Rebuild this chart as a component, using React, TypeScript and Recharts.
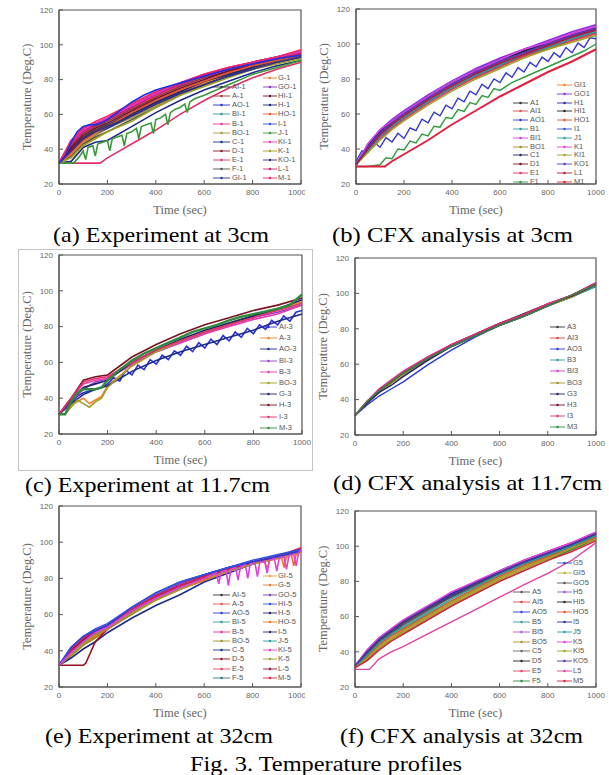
import React from 'react';
import { LineChart, Line, XAxis, YAxis, ReferenceArea, Legend } from 'recharts';

type Series = { name: string; color: string; t: number[]; v: number[]; w?: number; front?: boolean };

// ---------- shared axes / time grids ----------
const X_TICKS = [0, 200, 400, 600, 800, 1000];
const X_MINOR = [100, 300, 500, 700, 900];
const Y_TICKS = [20, 40, 60, 80, 100, 120];
const Y_MINOR = [30, 50, 70, 90, 110];
const T13 = [0, 50, 100, 150, 200, 300, 400, 500, 600, 700, 800, 900, 1000];
const T25 = [0, 25, 50, 75, 100, 125, 150, 175, 200, 225, 250, 275, 300, 325, 350, 375, 400, 425, 450, 475, 500, 525, 550, 575, 600, 625, 650, 675, 700, 725, 750, 775, 800, 825, 850, 875, 900, 925, 950, 975, 1000];

// ---------- (a) Experiment at 3cm ----------
const T_A_AO = [0, 25, 50, 75, 100, 125, 150, 175, 200, 250, 300, 350, 400, 450, 500, 600, 700, 800, 900, 1000];
const T_A_E = [0, 50, 100, 150, 170, 200, 300, 400, 500, 600, 700, 800, 900, 1000];
const T_A_J = [0, 60, 80, 100, 110, 120, 140, 150, 160, 180, 200, 210, 220, 240, 260, 270, 280, 300, 320, 330, 340, 360, 380, 390, 400, 420, 440, 450, 460, 480, 500, 520, 530, 540, 560, 580, 600, 700, 800, 900, 1000];
const SERIES_A: Series[] = [
  { name: 'AI-1', color: '#3a3a3a', t: T13, v: [32, 40, 47, 51, 54, 61, 68, 74, 79, 84, 88, 91, 94] },
  { name: 'A-1', color: '#a0302a', t: T13, v: [32, 42, 49, 53, 56, 63, 70, 76, 81, 85, 89, 92, 95] },
  { name: 'AO-1', color: '#2030e0', t: T_A_AO, v: [32, 36, 44, 50, 53, 54, 54, 55, 57, 62, 67, 71, 74, 76, 78, 82, 86, 89, 92, 94], front: true },
  { name: 'BI-1', color: '#2a9d8f', t: T13, v: [32, 38, 45, 49, 52, 59, 66, 72, 78, 83, 87, 90, 93] },
  { name: 'B-1', color: '#f0309a', t: T13, v: [32, 45, 52, 55, 58, 66, 73, 78, 83, 87, 90, 93, 97] },
  { name: 'BO-1', color: '#a89a30', t: T13, v: [32, 37, 44, 48, 52, 58, 65, 72, 77, 82, 86, 90, 93] },
  { name: 'C-1', color: '#1c2a8c', t: T13, v: [32, 33, 41, 44, 45, 53, 61, 68, 74, 79, 84, 88, 91] },
  { name: 'D-1', color: '#8b1a2a', t: T13, v: [32, 40, 46, 50, 53, 60, 67, 73, 78, 83, 87, 91, 94] },
  { name: 'E-1', color: '#e0306a', t: T_A_E, v: [32, 32, 32, 32, 32, 35, 43, 51, 60, 68, 75, 81, 86, 90] },
  { name: 'F-1', color: '#505050', t: T13, v: [32, 36, 43, 47, 50, 57, 64, 71, 77, 82, 86, 90, 93] },
  { name: 'GI-1', color: '#283593', t: T13, v: [32, 38, 45, 49, 52, 59, 66, 72, 78, 82, 87, 90, 93] },
  { name: 'G-1', color: '#e8802a', t: T13, v: [32, 37, 44, 49, 53, 60, 67, 73, 78, 83, 87, 90, 94] },
  { name: 'GO-1', color: '#9030c0', t: T13, v: [32, 44, 51, 54, 57, 65, 72, 77, 82, 86, 90, 93, 96] },
  { name: 'HI-1', color: '#701030', t: T13, v: [32, 41, 48, 52, 55, 62, 69, 75, 80, 85, 88, 92, 95] },
  { name: 'H-1', color: '#1a237e', t: T13, v: [32, 39, 46, 50, 53, 60, 67, 73, 79, 83, 87, 91, 94] },
  { name: 'HO-1', color: '#e8562a', t: T13, v: [32, 38, 45, 50, 53, 61, 68, 74, 79, 84, 88, 91, 94] },
  { name: 'I-1', color: '#3050e8', t: T13, v: [32, 43, 50, 54, 57, 64, 72, 77, 82, 86, 90, 93, 96] },
  { name: 'J-1', color: '#3a9a3a', t: T_A_J, v: [32, 32, 35, 39, 34, 41, 42, 36, 43, 44, 45, 39, 46, 47, 48, 42, 49, 50, 52, 46, 53, 54, 55, 49, 57, 58, 60, 54, 61, 63, 64, 66, 61, 67, 69, 70, 71, 77, 83, 87, 91] },
  { name: 'KI-1', color: '#e838c8', t: T13, v: [32, 44, 51, 55, 58, 65, 72, 78, 83, 87, 90, 93, 96] },
  { name: 'K-1', color: '#a0a020', t: T13, v: [32, 35, 42, 46, 50, 56, 64, 71, 76, 81, 86, 89, 92] },
  { name: 'KO-1', color: '#30308a', t: T13, v: [32, 39, 46, 50, 53, 59, 66, 72, 77, 82, 86, 90, 93] },
  { name: 'L-1', color: '#d02070', t: T13, v: [32, 43, 50, 54, 57, 64, 71, 77, 82, 86, 89, 92, 95] },
  { name: 'M-1', color: '#f02860', t: T13, v: [32, 45, 52, 56, 59, 66, 73, 78, 83, 87, 90, 93, 97] },
];
const LEGEND_A_LEFT = ['AI-1', 'A-1', 'AO-1', 'BI-1', 'B-1', 'BO-1', 'C-1', 'D-1', 'E-1', 'F-1', 'GI-1'];
const LEGEND_A_RIGHT = ['G-1', 'GO-1', 'HI-1', 'H-1', 'HO-1', 'I-1', 'J-1', 'KI-1', 'K-1', 'KO-1', 'L-1', 'M-1'];

// ---------- (b) CFX analysis at 3cm ----------
const T_B_F = [0, 50, 100, 125, 150, 175, 200, 225, 250, 275, 300, 325, 350, 375, 400, 425, 450, 475, 500, 525, 550, 575, 600, 650, 700, 750, 800, 850, 900, 950, 1000];
const T_B_M = [0, 50, 100, 120, 150, 200, 300, 400, 500, 600, 700, 800, 900, 1000];
const SERIES_B: Series[] = [
  { name: 'A1', color: '#333333', t: T13, v: [31, 42, 50, 56, 61, 70, 78, 85, 91, 97, 101, 106, 110] },
  { name: 'AI1', color: '#e85050', t: T13, v: [31, 40, 48, 54, 59, 68, 76, 83, 89, 95, 99.5, 104, 108] },
  { name: 'AO1', color: '#3038d0', t: T25, v: [33, 39, 38, 44, 41, 46.5, 44, 49, 46, 52, 50.5, 57, 55, 61, 59, 65, 63, 69, 67, 73, 71, 77, 74.5, 80, 78, 83.5, 81, 86.5, 84, 89.5, 87, 92.5, 90, 95, 92.5, 98, 95, 100.5, 98, 103.5, 103] },
  { name: 'B1', color: '#2a9d9d', t: T13, v: [31, 39, 47, 53, 58, 67, 75, 82, 88, 93, 98, 103, 107] },
  { name: 'BI1', color: '#d040d0', t: T13, v: [31, 42, 50, 56, 61, 70, 78, 85, 91, 96, 101, 106, 110] },
  { name: 'BO1', color: '#a09020', t: T13, v: [31, 39, 46, 52, 57, 66, 74, 81, 87, 93, 97, 102, 106] },
  { name: 'C1', color: '#23236e', t: T13, v: [31, 40, 47, 53, 58, 67, 75, 82, 88, 94, 98, 103, 107] },
  { name: 'D1', color: '#7a1020', t: T13, v: [31, 41, 49, 55, 60, 69, 77, 84, 90, 95, 100, 104, 108] },
  { name: 'E1', color: '#e83060', t: T13, v: [31, 39, 46, 52, 57, 66, 74, 81, 87, 93, 98, 102, 106] },
  { name: 'F1', color: '#2e9b3e', t: T_B_F, v: [30, 30, 31, 35, 34.5, 40, 39.5, 44.5, 43.5, 48.5, 47.5, 53, 52.5, 58, 57.5, 62.5, 61.5, 66.5, 65.5, 70.5, 69.5, 74.5, 73.5, 78, 81, 84, 87, 90, 93, 96, 100] },
  { name: 'GI1', color: '#f08030', t: T13, v: [31, 40, 48, 54, 59, 68, 76, 83, 89, 95, 99, 104, 108] },
  { name: 'GO1', color: '#8a2be2', t: T13, v: [31, 43, 51, 57, 62, 71, 79, 86, 92, 97, 102, 107, 111] },
  { name: 'H1', color: '#2a2a9a', t: T13, v: [31, 42, 50, 56, 61, 70, 78, 85, 91, 96, 101, 105, 109] },
  { name: 'HI1', color: '#222222', t: T13, v: [31, 41, 49, 55, 60, 69, 77, 84, 90, 96, 100, 105, 109] },
  { name: 'HO1', color: '#e0502a', t: T13, v: [31, 40, 48, 54, 59, 68, 76, 83, 89, 94, 99, 103, 107] },
  { name: 'I1', color: '#3050e0', t: T13, v: [31, 41, 49, 55, 60, 69, 77, 84, 90, 95, 100, 104, 108] },
  { name: 'J1', color: '#20a0a0', t: T13, v: [31, 39, 47, 53, 58, 67, 75, 82, 88, 94, 98, 103, 107] },
  { name: 'K1', color: '#e040e0', t: T13, v: [31, 43, 51, 56, 61, 70, 78, 85, 91, 97, 101, 106, 110] },
  { name: 'KI1', color: '#a0a020', t: T13, v: [31, 38, 45, 51, 56, 65, 73, 80, 86, 92, 97, 101, 105] },
  { name: 'KO1', color: '#5a3ab0', t: T13, v: [31, 41, 49, 55, 60, 69, 77, 84, 90, 95, 100, 105, 109] },
  { name: 'L1', color: '#b01840', t: T13, v: [31, 40, 48, 54, 59, 68, 76, 83, 89, 94, 99, 104, 108] },
  { name: 'M1', color: '#e02040', t: T_B_M, v: [30, 30, 30, 30, 33, 37, 45, 54, 62, 70, 77, 84, 90, 97], w: 2 },
];
const LEGEND_B_LEFT = ['A1', 'AI1', 'AO1', 'B1', 'BI1', 'BO1', 'C1', 'D1', 'E1', 'F1'];
const LEGEND_B_RIGHT = ['GI1', 'GO1', 'H1', 'HI1', 'HO1', 'I1', 'J1', 'K1', 'KI1', 'KO1', 'L1', 'M1'];

// ---------- (c) Experiment at 11.7cm ----------
const T_C_A = [0, 25, 50, 75, 100, 125, 150, 175, 200, 300, 400, 500, 600, 700, 800, 900, 1000];
const T_C_M = [0, 25, 50, 75, 100, 125, 150, 175, 200, 250, 300, 350, 400, 450, 500, 550, 600, 650, 700, 750, 800, 850, 900, 950, 1000];
const SERIES_C: Series[] = [
  { name: 'AI-3', color: '#2a30d8', t: T25, v: [31, 31, 37, 41, 43, 44, 45, 46, 48, 51.5, 49.5, 55.5, 53, 58.5, 56, 61.5, 59, 64, 61.5, 66.5, 64, 69, 66, 71, 68, 73, 70, 75, 72, 77, 74, 79, 76, 81, 78.5, 83.5, 81, 86, 83, 88, 89] },
  { name: 'A-3', color: '#f08030', t: T_C_A, v: [31, 31, 36, 38, 40, 37, 39, 41, 47, 58, 66, 72, 77, 82, 86, 90, 94] },
  { name: 'AO-3', color: '#1c2a8c', t: T13, v: [31, 37, 42, 45, 47, 55, 61, 66, 70, 74, 78, 83, 87] },
  { name: 'BI-3', color: '#9a40d0', t: T13, v: [31, 38, 45, 49, 51, 59, 66, 71, 76, 81, 85, 88, 92] },
  { name: 'B-3', color: '#e838b0', t: T13, v: [31, 40, 48, 50, 51, 59, 66, 71, 76, 80, 84, 87, 92] },
  { name: 'BO-3', color: '#a0a020', t: T_C_A, v: [31, 31, 35, 39, 37, 35, 38, 40, 46, 58, 66, 72, 77, 81, 86, 89, 93] },
  { name: 'G-3', color: '#23236e', t: T13, v: [31, 39, 46, 48, 50, 60, 67, 73, 78, 82, 86, 90, 95] },
  { name: 'H-3', color: '#7a1020', t: T13, v: [31, 40, 50, 52, 53, 63, 70, 76, 81, 85, 89, 92, 96] },
  { name: 'I-3', color: '#e83070', t: T13, v: [31, 40, 49, 51, 52, 60, 67, 72, 77, 81, 85, 89, 93] },
  { name: 'M-3', color: '#2e8b3e', t: T_C_M, v: [31, 31, 38, 43, 45, 45, 45, 46, 50, 56, 61, 65, 68, 71, 74, 77, 79, 81, 83.5, 85.5, 87, 88.5, 90, 92, 98], w: 2.4 },
];
const LEGEND_C = ['AI-3', 'A-3', 'AO-3', 'BI-3', 'B-3', 'BO-3', 'G-3', 'H-3', 'I-3', 'M-3'];

// ---------- (d) CFX analysis at 11.7cm ----------
const SERIES_D: Series[] = [
  { name: 'A3', color: '#333333', t: T13, v: [31, 39, 45, 50, 55, 63, 70, 77, 83, 88.5, 94, 99, 105] },
  { name: 'AI3', color: '#e04040', t: T13, v: [31, 39, 45, 50, 55, 63, 71, 77, 83, 88, 93.5, 99, 105] },
  { name: 'AO3', color: '#2a3ad8', t: T13, v: [31, 37, 42, 46, 50, 59.5, 68, 75.5, 82, 87, 93, 98, 104] },
  { name: 'B3', color: '#2a9d9d', t: T13, v: [31, 39, 45, 50, 55, 63, 70, 76, 82, 87, 93, 98, 104] },
  { name: 'BI3', color: '#d040d0', t: T13, v: [31, 39, 46, 51, 56, 64, 71, 77, 83, 88, 94, 99, 106] },
  { name: 'BO3', color: '#a09020', t: T13, v: [31, 38, 44, 49, 54, 62, 70, 76, 82, 87, 93, 98, 105] },
  { name: 'G3', color: '#23236e', t: T13, v: [31, 38, 44, 48, 53, 62, 70, 76, 82, 87, 93, 99, 106] },
  { name: 'H3', color: '#7a1030', t: T13, v: [31, 39, 45, 50, 55, 63, 71, 77, 83, 88, 94, 98.5, 105] },
  { name: 'I3', color: '#e03080', t: T13, v: [31, 39, 46, 51, 56, 64, 71, 77, 83, 88, 94, 99, 106] },
  { name: 'M3', color: '#2e8b3e', t: T13, v: [31, 39, 45, 50, 55, 63, 70, 76, 82, 87, 93, 99, 105] },
];
const LEGEND_D = ['A3', 'AI3', 'AO3', 'B3', 'BI3', 'BO3', 'G3', 'H3', 'I3', 'M3'];

// ---------- (e) Experiment at 32cm ----------
const T_E_D = [0, 50, 100, 110, 150, 200, 300, 400, 500, 600, 700, 800, 900, 1000];
const T_E_HO = [0, 50, 100, 150, 200, 300, 400, 500, 600, 700, 800, 850, 860, 870, 900, 920, 930, 940, 960, 970, 980, 1000];
const T_E_KI = [0, 50, 100, 150, 200, 300, 400, 500, 600, 650, 660, 670, 690, 700, 710, 730, 740, 750, 770, 780, 790, 810, 820, 830, 850, 860, 870, 890, 900, 910, 930, 940, 950, 970, 980, 990, 1000];
const SERIES_E: Series[] = [
  { name: 'AI-5', color: '#333333', t: T13, v: [32, 40, 46, 50, 53, 62, 69, 75, 80, 85, 89, 92, 96] },
  { name: 'A-5', color: '#e85050', t: T13, v: [32, 39, 45, 49, 53, 61, 69, 75, 80, 85, 88, 92, 95] },
  { name: 'AO-5', color: '#2a3ad8', t: T13, v: [32, 42, 48, 51, 54, 64, 72, 78, 82, 86, 89, 92, 95], front: true },
  { name: 'BI-5', color: '#2a9d9d', t: T13, v: [32, 38, 44, 48, 52, 61, 68, 74, 80, 84, 88, 92, 95] },
  { name: 'B-5', color: '#e83090', t: T13, v: [32, 41, 47, 51, 54, 62, 70, 76, 81, 85, 89, 92, 96] },
  { name: 'BO-5', color: '#a09020', t: T13, v: [32, 37, 43, 47, 52, 60, 68, 74, 79, 84, 88, 91, 95] },
  { name: 'C-5', color: '#1c2a8c', t: T13, v: [32, 36, 41, 45, 50, 58, 65, 71, 78, 83, 88, 92, 96] },
  { name: 'D-5', color: '#9a1020', t: T_E_D, v: [32, 32, 32, 33, 45, 52, 61, 69, 75, 80, 85, 89, 92, 96] },
  { name: 'E-5', color: '#f04060', t: T13, v: [32, 40, 47, 51, 54, 62, 70, 76, 81, 85, 89, 92, 96] },
  { name: 'F-5', color: '#2a7a7a', t: T13, v: [32, 38, 44, 48, 52, 61, 69, 75, 80, 85, 88, 92, 95] },
  { name: 'GI-5', color: '#f0a040', t: T13, v: [32, 39, 45, 49, 53, 61, 68, 74, 79, 84, 88, 91, 94] },
  { name: 'G-5', color: '#e08030', t: T13, v: [32, 39, 46, 50, 53, 62, 69, 75, 80, 84, 88, 91, 95] },
  { name: 'GO-5', color: '#8040b0', t: T13, v: [32, 41, 47, 51, 54, 63, 71, 77, 82, 86, 89, 92, 96] },
  { name: 'HI-5', color: '#3050e0', t: T13, v: [32, 42, 48, 52, 55, 64, 72, 78, 82, 86, 90, 93, 96], front: true },
  { name: 'H-5', color: '#23236e', t: T13, v: [32, 40, 46, 50, 53, 62, 70, 76, 81, 85, 89, 92, 96] },
  { name: 'HO-5', color: '#f07020', t: T_E_HO, v: [32, 38, 44, 48, 52, 61, 68, 74, 79, 84, 88, 89.5, 85, 90, 91, 91.5, 86, 92, 93, 87, 93.5, 95] },
  { name: 'I-5', color: '#2a2a80', t: T13, v: [32, 39, 45, 49, 53, 62, 69, 75, 80, 85, 89, 92, 96] },
  { name: 'J-5', color: '#20a0a0', t: T13, v: [32, 39, 45, 49, 53, 61, 69, 75, 80, 85, 88, 92, 95] },
  { name: 'KI-5', color: '#e040e0', t: T_E_KI, v: [32, 39, 45, 50, 53, 62, 69, 75, 80, 83, 77, 83.5, 84.5, 76, 85, 86, 79, 86.5, 87.5, 80, 88, 88.5, 81, 89, 89.5, 83, 90, 91, 84, 91.5, 92, 85, 92.5, 93.5, 87, 94, 96], front: true },
  { name: 'K-5', color: '#a0a020', t: T13, v: [32, 38, 44, 49, 53, 61, 68, 74, 80, 84, 88, 91, 95] },
  { name: 'L-5', color: '#a01040', t: T13, v: [32, 40, 46, 50, 54, 62, 70, 76, 81, 85, 89, 92, 96] },
  { name: 'M-5', color: '#e02040', t: T13, v: [32, 41, 47, 51, 54, 63, 70, 76, 81, 85, 89, 92, 97] },
];
const LEGEND_E_LEFT = ['AI-5', 'A-5', 'AO-5', 'BI-5', 'B-5', 'BO-5', 'C-5', 'D-5', 'E-5', 'F-5'];
const LEGEND_E_RIGHT = ['GI-5', 'G-5', 'GO-5', 'HI-5', 'H-5', 'HO-5', 'I-5', 'J-5', 'KI-5', 'K-5', 'L-5', 'M-5'];

// ---------- (f) CFX analysis at 32cm ----------
const T_F_LOW = [0, 50, 60, 100, 150, 200, 300, 400, 500, 600, 700, 800, 900, 1000];
const SERIES_F: Series[] = [
  { name: 'A5', color: '#555555', t: T13, v: [32, 39, 46, 51, 56, 64, 71.5, 78, 84.5, 90.5, 95.5, 100.5, 106] },
  { name: 'AI5', color: '#e84040', t: T13, v: [31, 37, 43, 48, 52, 60, 68, 75, 82, 88, 94, 99, 105] },
  { name: 'AO5', color: '#2a3ad8', t: T13, v: [32, 40, 47, 52, 57, 65, 72.5, 79, 85.5, 91, 96, 101, 107] },
  { name: 'B5', color: '#2a9d9d', t: T13, v: [31, 38, 44, 49, 53, 61, 69, 76, 83, 89, 94, 100, 105] },
  { name: 'BI5', color: '#b050e0', t: T13, v: [32, 40, 47, 52, 57, 65, 73, 79.5, 86, 92, 97, 102, 107] },
  { name: 'BO5', color: '#b09020', t: T13, v: [31, 36, 42, 47, 51, 59, 67, 74, 81, 87, 93, 98, 104] },
  { name: 'C5', color: '#666666', t: T13, v: [31, 38, 45, 50, 55, 63, 71, 77, 84, 90, 95, 100, 106] },
  { name: 'D5', color: '#222222', t: T13, v: [32, 39, 46, 51, 56, 64, 72, 78, 85, 91, 96, 101, 107] },
  { name: 'E5', color: '#f04060', t: T13, v: [32, 40, 47, 52, 57, 65, 73, 79, 86, 92, 97, 102, 108] },
  { name: 'F5', color: '#2e8b3e', t: T13, v: [31, 35, 41, 46, 50, 58, 66, 73, 80, 86, 92, 98, 104] },
  { name: 'G5', color: '#2a50d0', t: T13, v: [32, 40, 47, 52, 57, 65, 72, 79, 85, 91, 96, 101, 106] },
  { name: 'GI5', color: '#c0b030', t: T13, v: [31, 37, 43, 48, 52, 60, 68, 75, 82, 88, 94, 99, 105] },
  { name: 'GO5', color: '#555555', t: T13, v: [32, 39, 46, 51, 56, 64, 71, 78, 84, 90, 95, 100, 106] },
  { name: 'H5', color: '#9a50e0', t: T13, v: [32, 41, 48, 53, 58, 66, 73, 80, 86, 92, 97, 102, 108] },
  { name: 'HI5', color: '#222222', t: T13, v: [32, 40, 47, 52, 57, 65, 72, 79, 85, 91, 96, 101, 107] },
  { name: 'HO5', color: '#e85030', t: T13, v: [31, 37, 44, 49, 53, 61, 69, 76, 83, 89, 94, 99, 105] },
  { name: 'I5', color: '#2a2a9a', t: T13, v: [32, 40, 47, 52, 57, 65, 73, 79, 86, 91, 96, 101, 107] },
  { name: 'J5', color: '#20a0a0', t: T13, v: [31, 38, 45, 50, 54, 62, 70, 77, 84, 90, 95, 100, 106] },
  { name: 'K5', color: '#e040e0', t: T13, v: [32, 41, 48, 53, 58, 66, 74, 80, 86, 92, 97, 102, 108] },
  { name: 'KI5', color: '#a0a020', t: T13, v: [31, 36, 43, 47, 52, 60, 68, 75, 82, 88, 93, 99, 104] },
  { name: 'KO5', color: '#4a3aa0', t: T13, v: [32, 40, 47, 52, 57, 65, 72, 79, 85, 91, 96, 101, 107] },
  { name: 'L5', color: '#e040a0', t: T_F_LOW, v: [30, 30, 30, 36, 40, 43, 50, 57, 64, 71, 78, 84.5, 92, 102] },
  { name: 'M5', color: '#e02040', t: T13, v: [31, 35, 41, 46, 50, 58, 66, 73, 80, 86, 92, 97, 103] },
];
const LEGEND_F_LEFT = ['A5', 'AI5', 'AO5', 'B5', 'BI5', 'BO5', 'C5', 'D5', 'E5', 'F5'];
const LEGEND_F_RIGHT = ['G5', 'GI5', 'GO5', 'H5', 'HI5', 'HO5', 'I5', 'J5', 'K5', 'KI5', 'KO5', 'L5', 'M5'];

// ---------- captions ----------
const CAPTIONS = [
  { text: '(a) Experiment at 3cm', x: 53, y: 242, w: 216 },
  { text: '(b) CFX analysis at 3cm', x: 332, y: 242, w: 241 },
  { text: '(c) Experiment at 11.7cm', x: 25, y: 492, w: 245 },
  { text: '(d) CFX analysis at 11.7cm', x: 333, y: 490, w: 269 },
  { text: '(e) Experiment at 32cm', x: 45, y: 743, w: 228 },
  { text: '(f) CFX analysis at 32cm', x: 340, y: 743, w: 243 },
  { text: 'Fig. 3. Temperature profiles', x: 190, y: 771, w: 272 },
];

type LegendCol = { x: number; names: string[]; startRow: number; lineW: number; textX: number };
type PanelCfg = {
  box: [number, number, number, number];
  plot: [number, number, number, number];
  series: Series[];
  defaultW: number;
  legend: { cols: LegendCol[]; y0: number; dy: number };
};

const SANS = 'Liberation Sans';
const SERIF = 'Liberation Serif';

function toRows(s: Series) {
  return s.t.map((t, i) => ({ t, v: s.v[i] }));
}

function Panel({ cfg }: { cfg: PanelCfg }) {
  const [bx, by, bw, bh] = cfg.box;
  const [pl, pt, pr, pb] = cfg.plot;
  const YW = 40;
  const XH = 34;
  const margin = { top: pt - by, right: bx + bw - pr, bottom: by + bh - pb - XH, left: pl - bx - YW };
  const colorOf: Record<string, string> = {};
  cfg.series.forEach((s) => (colorOf[s.name] = s.color));
  const ordered = [...cfg.series.filter((s) => !s.front), ...cfg.series.filter((s) => s.front)];
  const legendContent = () => (
    <div style={{ position: 'relative', width: bw, height: bh }}>
      {cfg.legend.cols.map((col, ci) =>
        col.names.map((n, i) => {
          const y = cfg.legend.y0 + cfg.legend.dy * (col.startRow + i) - by;
          const c = colorOf[n];
          return (
            <div key={ci + '-' + n} style={{ position: 'absolute', left: col.x - bx, top: y - 5, height: 10, width: 60 }}>
              <svg width={col.lineW} height={10} style={{ position: 'absolute', left: 0, top: 0 }}>
                <line x1={0} y1={5} x2={col.lineW} y2={5} stroke={c} strokeWidth={0.9} />
                <circle cx={col.lineW / 2} cy={5} r={1.2} fill={c} />
              </svg>
              <span style={{ position: 'absolute', left: col.textX - col.x, top: 0, lineHeight: '10px', fontSize: 7.5, fontFamily: SANS, color: '#555', whiteSpace: 'nowrap' }}>{n}</span>
            </div>
          );
        })
      )}
    </div>
  );
  const tickStyle = { fontSize: 8, fill: '#666', fontFamily: SANS };
  return (
    <div style={{ position: 'absolute', left: bx, top: by, width: bw, height: bh, overflow: 'hidden' }}>
      <LineChart width={bw} height={bh} margin={margin}>
        <XAxis xAxisId="minor" type="number" dataKey="t" domain={[0, 1000]} ticks={X_MINOR} tick={false} tickSize={-2.5} axisLine={false} height={0} stroke="#555" />
        <XAxis
          type="number"
          dataKey="t"
          domain={[0, 1000]}
          ticks={X_TICKS}
          tickSize={-4}
          tickMargin={9}
          height={XH}
          stroke="#555"
          tick={tickStyle}
          label={{ value: 'Time (sec)', position: 'insideBottom', offset: 4, fontFamily: SERIF, fontSize: 12.5, fill: '#666', style: { fontFamily: SERIF, fontWeight: 'normal' } }}
        />
        <YAxis yAxisId="minor" type="number" domain={[20, 120]} ticks={Y_MINOR} tick={false} tickSize={-2.5} axisLine={false} width={0} stroke="#555" />
        <YAxis
          type="number"
          domain={[20, 120]}
          ticks={Y_TICKS}
          tickSize={-4}
          tickMargin={10}
          width={YW}
          stroke="#555"
          tick={tickStyle}
          label={{ value: 'Temperature (Deg.C)', angle: -90, position: 'insideLeft', offset: 8, fontFamily: SERIF, fontSize: 12.5, fill: '#666', style: { textAnchor: 'middle', fontFamily: SERIF, fontWeight: 'normal' } }}
        />
        {ordered.map((s) => (
          <Line
            key={s.name}
            data={toRows(s)}
            dataKey="v"
            name={s.name}
            type="linear"
            stroke={s.color}
            strokeWidth={s.w ?? cfg.defaultW}
            dot={false}
            isAnimationActive={false}
          />
        ))}
        <ReferenceArea x1={0} x2={1000} y1={20} y2={120} fill="none" stroke="#555" strokeWidth={1.2} ifOverflow="visible" />
        <Legend
          layout="vertical"
          align="center"
          verticalAlign="middle"
          content={legendContent}
          wrapperStyle={{ position: 'absolute', left: 0, top: 0, width: bw, height: bh, pointerEvents: 'none' }}
        />
      </LineChart>
    </div>
  );
}

const PANELS: PanelCfg[] = [
  {
    box: [0, 0, 305, 222],
    plot: [59, 10, 301, 184],
    series: SERIES_A,
    defaultW: 1.6,
    legend: {
      y0: 78,
      dy: 9.1,
      cols: [
        { x: 213, textX: 232, lineW: 17, names: LEGEND_A_LEFT, startRow: 1 },
        { x: 263, textX: 278, lineW: 14, names: LEGEND_A_RIGHT, startRow: 0 },
      ],
    },
  },
  {
    box: [305, 0, 304, 222],
    plot: [356, 9, 596, 184],
    series: SERIES_B,
    defaultW: 1.4,
    legend: {
      y0: 85,
      dy: 8.8,
      cols: [
        { x: 513, textX: 530, lineW: 15, names: LEGEND_B_LEFT, startRow: 2 },
        { x: 557, textX: 574, lineW: 15, names: LEGEND_B_RIGHT, startRow: 0 },
      ],
    },
  },
  {
    box: [18, 249, 294, 221],
    plot: [59, 255, 302, 434],
    series: SERIES_C,
    defaultW: 1.6,
    legend: { y0: 327, dy: 11.2, cols: [{ x: 260, textX: 279, lineW: 17, names: LEGEND_C, startRow: 0 }] },
  },
  {
    box: [305, 250, 304, 222],
    plot: [355, 258, 596, 435],
    series: SERIES_D,
    defaultW: 1.4,
    legend: { y0: 327, dy: 11.1, cols: [{ x: 550, textX: 567, lineW: 15, names: LEGEND_D, startRow: 0 }] },
  },
  {
    box: [0, 500, 305, 222],
    plot: [59, 506, 301, 687],
    series: SERIES_E,
    defaultW: 1.6,
    legend: {
      y0: 576,
      dy: 9.27,
      cols: [
        { x: 213, textX: 232, lineW: 17, names: LEGEND_E_LEFT, startRow: 2 },
        { x: 263, textX: 278, lineW: 14, names: LEGEND_E_RIGHT, startRow: 0 },
      ],
    },
  },
  {
    box: [305, 500, 304, 222],
    plot: [355, 511, 596, 687],
    series: SERIES_F,
    defaultW: 1.4,
    legend: {
      y0: 563,
      dy: 9.83,
      cols: [
        { x: 513, textX: 532, lineW: 17, names: LEGEND_F_LEFT, startRow: 3 },
        { x: 557, textX: 573, lineW: 15, names: LEGEND_F_RIGHT, startRow: 0 },
      ],
    },
  },
];

export default function App() {
  return (
    <div style={{ position: 'absolute', left: 0, top: 0, width: 609, height: 775, background: '#fff', overflow: 'hidden' }}>
      <div style={{ position: 'absolute', left: 18, top: 249, width: 293, height: 220, border: '1px solid #c4c4c4' }} />
      {PANELS.map((p, i) => (
        <Panel key={i} cfg={p} />
      ))}
      <svg width={609} height={775} style={{ position: 'absolute', left: 0, top: 0, pointerEvents: 'none' }}>
        {CAPTIONS.map((c) => (
          <text key={c.text} x={c.x} y={c.y} fontFamily={SERIF} fontSize={21} fill="#000" textLength={c.w} lengthAdjust="spacingAndGlyphs">
            {c.text}
          </text>
        ))}
      </svg>
    </div>
  );
}
